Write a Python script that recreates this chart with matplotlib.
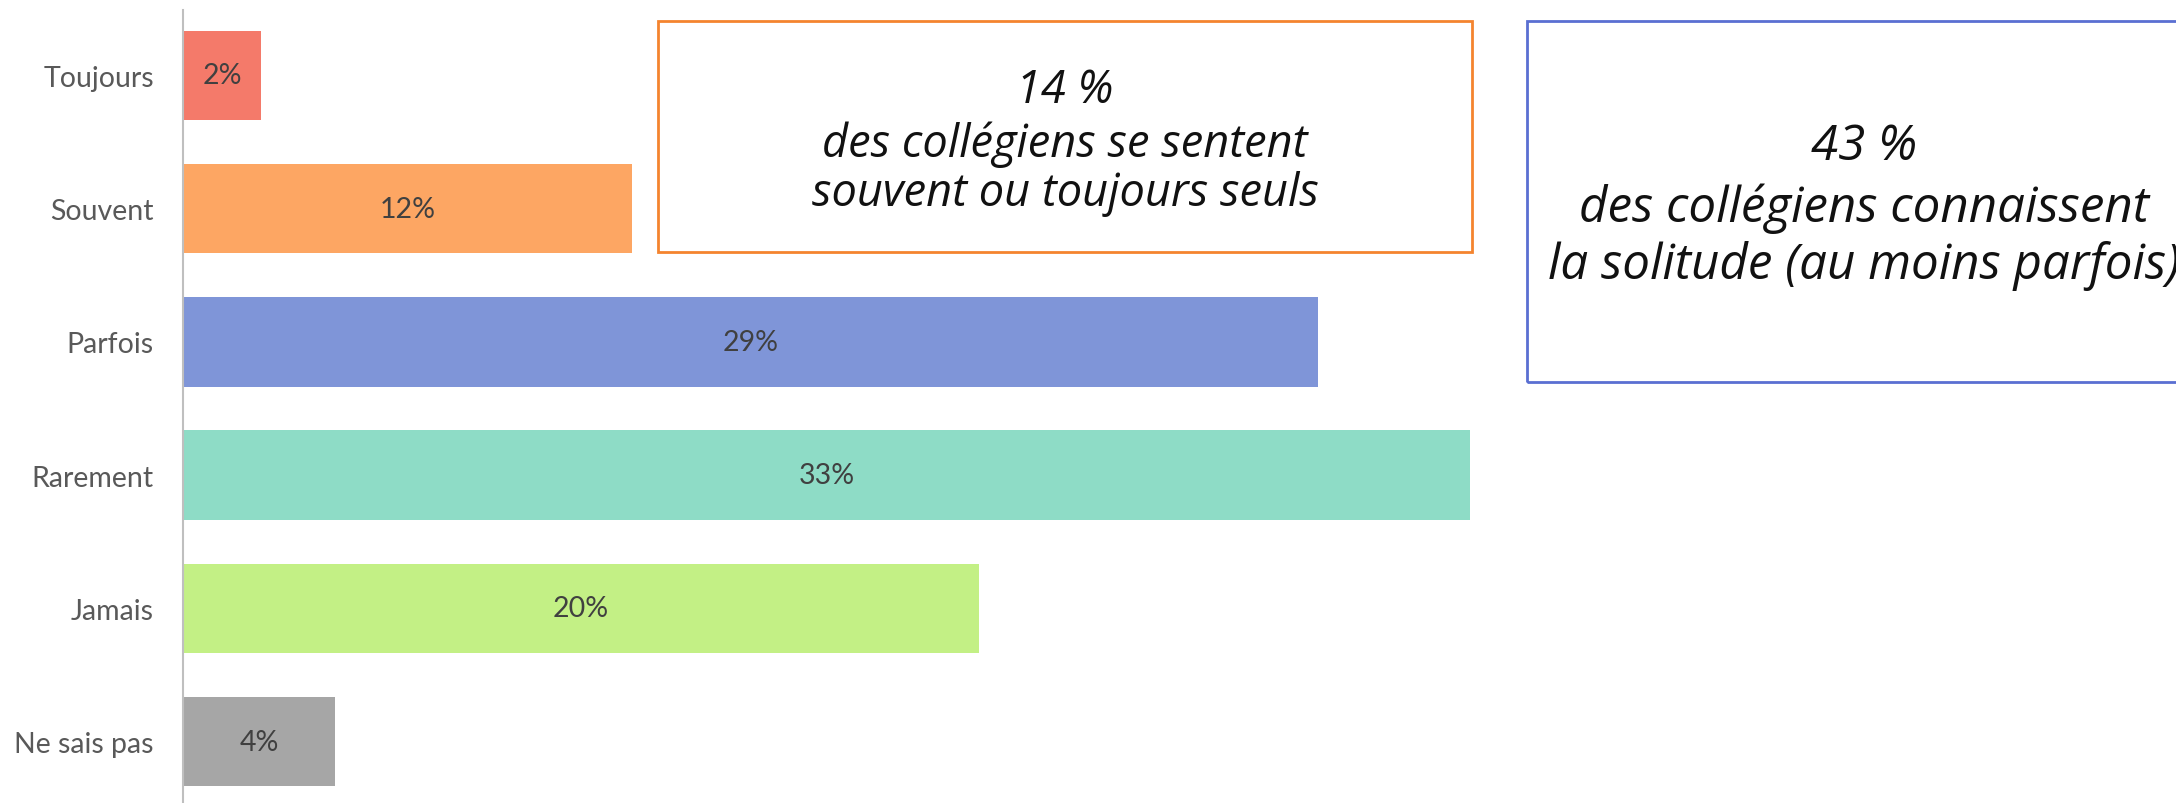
import matplotlib
matplotlib.use("Agg")
import matplotlib.pyplot as plt
from matplotlib.patches import Rectangle

categories = ["Toujours", "Souvent", "Parfois", "Rarement", "Jamais", "Ne sais pas"]
values = [2.0, 11.5, 29.1, 33.0, 20.4, 3.9]
value_labels = ["2%", "12%", "29%", "33%", "20%", "4%"]
colors = ["#F47A6A", "#FDA663", "#7F95D8", "#8EDCC6", "#C3F085", "#A6A6A6"]

box1_lines = ["14 %", "des collégiens se sentent", "souvent ou toujours seuls"]
box2_lines = ["43 %", "des collégiens connaissent", "la solitude (au moins parfois)"]

W, H = 2176, 804
DPI = 100
fig = plt.figure(figsize=(W / DPI, H / DPI), dpi=DPI)
fig.patch.set_facecolor("white")

ax_left = 183
ax_top = 11
ax = fig.add_axes([ax_left / W, 0, (W - ax_left) / W, 1 - ax_top / H])
ax.patch.set_alpha(0)
px_per_pct = (1470 - 183) / 33.0
ax.set_xlim(0, (W - ax_left) / px_per_pct)
ax.set_ylim(5.46, -0.49)

y = list(range(len(categories)))
ax.barh(y, values, height=0.67, color=colors, zorder=2)
for yi, v, lab in zip(y, values, value_labels):
    ax.text(v / 2, yi, lab, ha="center", va="center", fontsize=20.5,
            family="Lato", color="#404040", zorder=3)

ax.set_yticks(y)
ax.set_yticklabels(categories, fontsize=20.5, family="Lato", color="#595959")
ax.tick_params(axis="y", length=0, pad=21)
ax.set_xticks([])
for s in ["top", "right", "bottom"]:
    ax.spines[s].set_visible(False)
ax.spines["left"].set_color("#BFBFBF")
ax.spines["left"].set_linewidth(1.5)

def fig_rect(x0, y0, x1, y1, ec):
    r = Rectangle((x0 / W, 1 - y1 / H), (x1 - x0) / W, (y1 - y0) / H,
                  transform=fig.transFigure, fill=False, edgecolor=ec,
                  linewidth=2, zorder=5)
    fig.patches.append(r)

fig_rect(658, 22, 1472, 253, "#F4842F")
fig_rect(1527, 22, 2205, 383, "#5A6FD2")

for line, yy in zip(box1_lines, [91, 145, 194]):
    fig.text(1065 / W, 1 - yy / H, line, ha="center", va="center",
             fontsize=32.5, family="Open Sans", style="italic",
             color="#111111")
for line, yy in zip(box2_lines, [147, 209, 266]):
    fig.text(1864 / W, 1 - yy / H, line, ha="center", va="center",
             fontsize=35.5, family="Open Sans", style="italic",
             color="#111111")

fig.savefig("out.png", dpi=DPI, facecolor="white")
